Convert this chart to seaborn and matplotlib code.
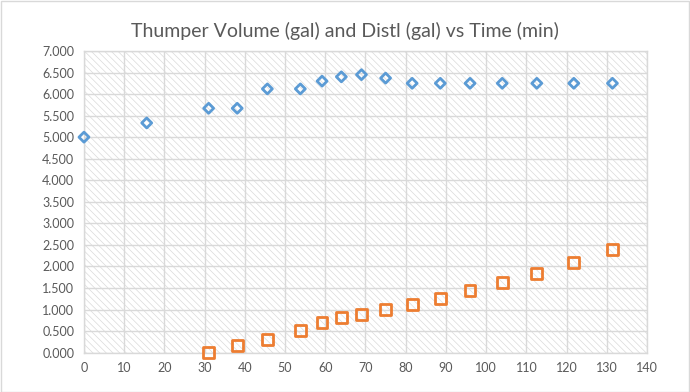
import numpy as np
import pandas as pd
import matplotlib
matplotlib.use('Agg')
import matplotlib.pyplot as plt
import seaborn as sns
from matplotlib.patches import Rectangle
from matplotlib.ticker import FuncFormatter, MultipleLocator

# Thumper volume (blue diamonds)
time_thumper = [0, 15.6, 31, 38.1, 45.6, 53.8, 59.2, 64, 69, 75, 81.6, 88.6, 96, 104, 112.6, 121.8, 131.4]
thumper_gal = [5.0, 5.33, 5.67, 5.67, 6.12, 6.12, 6.30, 6.40, 6.45, 6.37, 6.25, 6.25, 6.25, 6.25, 6.25, 6.25, 6.25]

# Distillate (orange squares)
time_distl = [31, 38.1, 45.6, 53.8, 59.2, 64, 69, 75, 81.6, 88.6, 96, 104, 112.6, 121.8, 131.4]
distl_gal = [0.0, 0.16, 0.30, 0.51, 0.70, 0.81, 0.88, 1.00, 1.11, 1.25, 1.44, 1.62, 1.83, 2.09, 2.39]

title = 'Thumper Volume (gal) and Distl (gal) vs Time (min)'

sns.set_theme(style='white')
plt.rcParams['font.family'] = ['Lato', 'DejaVu Sans']
plt.rcParams['hatch.color'] = '#dadada'
plt.rcParams['hatch.linewidth'] = 0.5

text_col = '#595959'
grid_col = '#d9d9d9'

fig = plt.figure(figsize=(6.9, 3.92), dpi=100)
ax = fig.add_axes([0.1217, 0.1003, 0.8160, 0.7697])

# hatched plot area
ax.add_patch(Rectangle((0, 0), 1, 1, transform=ax.transAxes, facecolor='white',
                       hatch='\\\\\\\\\\', edgecolor='#dadada', linewidth=0, zorder=0))

df_t = pd.DataFrame({'Time': time_thumper, 'Gal': thumper_gal})
df_d = pd.DataFrame({'Time': time_distl, 'Gal': distl_gal})

sns.scatterplot(data=df_t, x='Time', y='Gal', ax=ax, marker='D', s=26,
                facecolor='none', edgecolor='#5B9BD5', linewidth=2, zorder=3,
                clip_on=False)
sns.scatterplot(data=df_d, x='Time', y='Gal', ax=ax, marker='s', s=60,
                facecolor='none', edgecolor='#ED7D31', linewidth=2, zorder=3,
                clip_on=False)

ax.set_xlim(0, 140)
ax.set_ylim(0, 7)
ax.xaxis.set_major_locator(MultipleLocator(10))
ax.yaxis.set_major_locator(MultipleLocator(0.5))
ax.yaxis.set_major_formatter(FuncFormatter(lambda v, p: f'{v:.3f}'))
ax.grid(True, color=grid_col, linewidth=1)
ax.set_axisbelow(True)
for s in ax.spines.values():
    s.set_color(grid_col)
    s.set_linewidth(1)
ax.set_xlabel('')
ax.set_ylabel('')
ax.tick_params(axis='both', length=0, labelsize=9, colors=text_col, pad=7)

# title centred on the whole chart, not the plot area
fig.text(0.5, 0.92, title, ha='center', va='center', fontsize=14, color=text_col)

# chart border
fig.patches.append(Rectangle((0.001, 0.001), 0.997, 0.996, transform=fig.transFigure,
                             fill=False, edgecolor='#d9d9d9', linewidth=1))

fig.savefig('out.png', dpi=100)
